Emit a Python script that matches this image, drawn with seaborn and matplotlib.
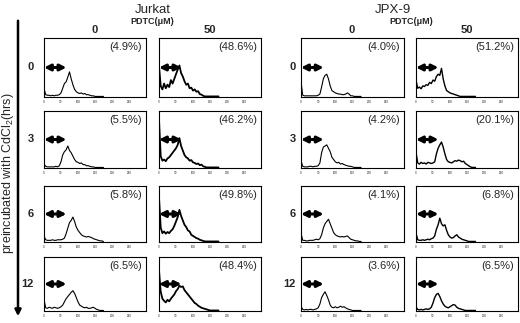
import numpy as np
import pandas as pd
import seaborn as sns
import matplotlib
matplotlib.use('Agg')
import matplotlib.pyplot as plt
from matplotlib.patches import FancyArrowPatch

sns.set_style('white')
plt.rcParams['font.family'] = ['Liberation Sans', 'DejaVu Sans']
plt.rcParams['mathtext.default'] = 'regular'

# fluorescence channel (x) and cell counts (0-100 = panel height)
channels = list(range(0, 180, 5))
x_ticks = [0, 50, 100, 150, 200, 250]
x_tick_labels = ['0', '50', '100', '150', '200', '250']

cell_lines = ['Jurkat', 'JPX-9']
pdtc_doses = ['0', '50']
cd_hours = ['0', '3', '6', '12']

jurkat_pdtc0_pct = ['(4.9%)', '(5.5%)', '(5.8%)', '(6.5%)']
jurkat_pdtc50_pct = ['(48.6%)', '(46.2%)', '(49.8%)', '(48.4%)']
jpx_pdtc0_pct = ['(4.0%)', '(4.2%)', '(4.1%)', '(3.6%)']
jpx_pdtc50_pct = ['(51.2%)', '(20.1%)', '(6.8%)', '(6.5%)']

# Jurkat
j0_pdtc0 = [14, 3, 2, 2, 1, 2, 1, 2, 2, 3, 6, 14, 22, 25, 33, 42, 30, 20, 12, 8, 6, 5, 6, 4, 5, 3, 3, 2, 1, 1, 0]
j0_pdtc50 = [52, 18, 12, 22, 14, 20, 16, 28, 22, 30, 38, 46, 53, 40, 34, 26, 20, 22, 14, 15, 10, 12, 8, 9, 4, 3, 1, 0]
j3_pdtc0 = [6, 2, 1, 1, 1, 1, 1, 2, 1, 3, 10, 22, 28, 31, 38, 30, 26, 20, 14, 10, 9, 7, 8, 5, 5, 3, 3, 2, 1, 1, 0]
j3_pdtc50 = [85, 20, 12, 14, 11, 16, 18, 22, 26, 30, 34, 40, 52, 38, 30, 22, 18, 16, 12, 13, 9, 8, 6, 7, 4, 5, 2, 1, 0]
j6_pdtc0 = [10, 3, 2, 2, 2, 3, 2, 2, 3, 3, 3, 4, 6, 14, 24, 34, 38, 44, 36, 26, 20, 16, 12, 10, 9, 8, 9, 8, 7, 5, 4, 3, 2, 1, 1, 0]
j6_pdtc50 = [80, 25, 15, 18, 14, 17, 15, 19, 22, 28, 36, 44, 57, 46, 38, 30, 26, 20, 18, 12, 10, 8, 6, 5, 3, 2, 1, 0]
j12_pdtc0 = [20, 5, 4, 6, 5, 4, 6, 5, 4, 5, 7, 10, 16, 22, 26, 30, 34, 37, 32, 24, 16, 10, 8, 6, 5, 6, 4, 4, 5, 6, 4, 2, 1, 0]
j12_pdtc50 = [75, 35, 22, 18, 15, 20, 17, 22, 26, 30, 36, 40, 46, 44, 45, 38, 34, 30, 26, 22, 18, 14, 12, 9, 7, 5, 4, 3, 2, 1, 0]

# JPX-9
x0_pdtc0 = [25, 2, 1, 1, 1, 1, 1, 1, 1, 1, 2, 4, 16, 30, 36, 38, 30, 18, 10, 8, 6, 5, 4, 4, 3, 3, 4, 6, 4, 1, 1, 0]
x0_pdtc50 = [28, 14, 16, 13, 18, 17, 20, 19, 24, 22, 28, 26, 34, 38, 36, 48, 30, 18, 10, 8, 6, 5, 4, 3, 2, 1, 0]
x3_pdtc0 = [12, 2, 1, 1, 1, 2, 2, 1, 2, 2, 3, 8, 26, 36, 38, 40, 34, 28, 18, 14, 10, 8, 9, 6, 7, 5, 4, 3, 2, 2, 1, 0]
x3_pdtc50 = [27, 8, 6, 9, 7, 8, 6, 9, 8, 7, 8, 10, 24, 34, 40, 45, 36, 24, 14, 10, 9, 8, 10, 12, 11, 13, 12, 10, 11, 7, 5, 3, 1, 0]
x6_pdtc0 = [15, 2, 2, 1, 1, 2, 2, 2, 3, 4, 3, 5, 12, 24, 32, 36, 40, 32, 24, 16, 12, 10, 9, 8, 9, 8, 9, 10, 7, 4, 3, 2, 1, 1, 0]
x6_pdtc50 = [15, 3, 2, 2, 3, 2, 3, 4, 3, 5, 6, 10, 22, 30, 42, 32, 28, 30, 20, 12, 8, 6, 7, 10, 12, 8, 6, 4, 3, 2, 1, 0]
x12_pdtc0 = [8, 2, 1, 2, 1, 2, 2, 1, 2, 3, 5, 12, 24, 30, 35, 28, 20, 10, 6, 5, 7, 5, 6, 8, 6, 7, 5, 3, 2, 1, 0]
x12_pdtc50 = [6, 2, 1, 2, 1, 2, 3, 2, 3, 6, 14, 24, 30, 32, 26, 18, 12, 8, 6, 5, 7, 9, 11, 10, 6, 4, 3, 2, 1, 0]

panels = [
    [j0_pdtc0, j0_pdtc50, x0_pdtc0, x0_pdtc50],
    [j3_pdtc0, j3_pdtc50, x3_pdtc0, x3_pdtc50],
    [j6_pdtc0, j6_pdtc50, x6_pdtc0, x6_pdtc50],
    [j12_pdtc0, j12_pdtc50, x12_pdtc0, x12_pdtc50],
]
pct_cols = [jurkat_pdtc0_pct, jurkat_pdtc50_pct, jpx_pdtc0_pct, jpx_pdtc50_pct]
line_w = [0.8, 1.3, 0.8, 1.0]

W, H = 520, 323
fig = plt.figure(figsize=(W / 100, H / 100), dpi=100)

# panel boxes in pixels
col_px = [(44, 146), (159, 261), (301, 404), (416, 518)]
row_px = [(38, 97), (111, 168), (186, 242), (257, 311)]

for r, (y0, y1) in enumerate(row_px):
    for c, (x0, x1) in enumerate(col_px):
        ax = fig.add_axes([x0 / W, 1 - y1 / H, (x1 - x0) / W, (y1 - y0) / H])
        counts = panels[r][c] + [0] * (len(channels) - len(panels[r][c]))
        df = pd.DataFrame({'channel': channels, 'count': counts})
        sns.lineplot(data=df, x='channel', y='count', ax=ax, color='black', lw=line_w[c])
        ax.set_xlim(0, 300)
        ax.set_ylim(-1, 100)
        ax.set_xlabel('')
        ax.set_ylabel('')
        ax.set_xticks(x_ticks)
        ax.set_xticklabels(x_tick_labels, fontsize=2.2)
        ax.set_yticks([20, 40, 60, 80])
        ax.set_yticklabels([])
        ax.tick_params(axis='x', direction='out', length=1.5, width=0.5, pad=0.5)
        ax.tick_params(axis='y', direction='in', length=1.5, width=0.5)
        for s in ax.spines.values():
            s.set_color('black')
            s.set_linewidth(0.8)
        ax.text(0.96, 0.84, pct_cols[c][r], transform=ax.transAxes,
                ha='right', va='center', fontsize=8)
        ax.annotate('', xy=(0.22, 0.5), xytext=(0.0, 0.5), xycoords='axes fraction',
                    arrowprops=dict(arrowstyle='<|-|>', color='black', lw=2.2,
                                    mutation_scale=9, shrinkA=0, shrinkB=0))

# row labels (hours with CdCl2)
for r, (y0, y1) in enumerate(row_px):
    yc = 1 - ((y0 + y1) / 2) / H
    fig.text(34 / W, yc, cd_hours[r], ha='right', va='center', fontsize=8, fontweight='bold')
    fig.text(296 / W, yc, cd_hours[r], ha='right', va='center', fontsize=8, fontweight='bold')

# column headers
fig.text(153 / W, 1 - 10 / H, cell_lines[0], ha='center', va='center', fontsize=9.5)
fig.text(393 / W, 1 - 10 / H, cell_lines[1], ha='center', va='center', fontsize=9.5)
fig.text(152 / W, 1 - 21 / H, 'PDTC(μM)', ha='center', va='center', fontsize=6.5, fontweight='bold')
fig.text(411 / W, 1 - 21 / H, 'PDTC(μM)', ha='center', va='center', fontsize=6.5, fontweight='bold')
for cx, lab in zip([95, 210, 352, 467], pdtc_doses * 2):
    fig.text(cx / W, 1 - 30 / H, lab, ha='center', va='center', fontsize=8, fontweight='bold')

# long time arrow and its label
fig.add_artist(FancyArrowPatch((18 / W, 1 - 18 / H), (18 / W, 1 - 319 / H),
                               transform=fig.transFigure, arrowstyle='-|>',
                               mutation_scale=9, lw=1.8, color='black'))
fig.text(8 / W, 1 - 173 / H, 'preincubated with CdCl$_2$(hrs)', rotation=90,
         ha='center', va='center', fontsize=9)

fig.savefig('out.png', dpi=100)
